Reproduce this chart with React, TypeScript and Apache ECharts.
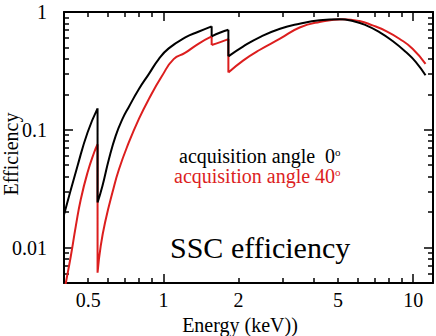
import React, { useEffect, useRef } from "react";
import * as echarts from "echarts";

// Acquisition angle 0 deg (black); edges appear as repeated energies
const energy0 = [0.4, 0.453, 0.497, 0.545, 0.545, 0.570, 0.605, 0.644, 0.685, 0.728, 0.797, 0.874, 0.958, 1.05, 1.224, 1.38, 1.56, 1.56, 1.69, 1.82, 1.82, 2.09, 2.435, 2.93, 3.51, 4.22, 5.07, 5.73, 6.48, 7.32, 8.27, 9.35, 10.25, 11.2];
const eff0 = [0.019, 0.0493, 0.0948, 0.152, 0.0241, 0.0333, 0.0562, 0.0888, 0.123, 0.157, 0.221, 0.297, 0.398, 0.491, 0.609, 0.68, 0.756, 0.621, 0.67, 0.707, 0.42, 0.511, 0.613, 0.721, 0.795, 0.85, 0.867, 0.838, 0.77, 0.676, 0.567, 0.457, 0.376, 0.29];

// Acquisition angle 40 deg (red)
const energy40 = [0.4, 0.407, 0.426, 0.446, 0.467, 0.497, 0.528, 0.545, 0.545, 0.561, 0.588, 0.625, 0.664, 0.727, 0.797, 0.874, 0.988, 1.099, 1.22, 1.38, 1.56, 1.56, 1.69, 1.82, 1.82, 2.09, 2.435, 2.93, 3.51, 4.22, 5.23, 6.09, 6.88, 7.79, 8.8, 9.94, 11.2];
const eff40 = [0.0041, 0.00503, 0.00847, 0.0152, 0.0257, 0.0434, 0.0641, 0.0754, 0.00612, 0.0103, 0.0174, 0.0293, 0.0462, 0.078, 0.123, 0.182, 0.287, 0.398, 0.449, 0.537, 0.62, 0.524, 0.555, 0.589, 0.306, 0.388, 0.478, 0.593, 0.738, 0.822, 0.867, 0.838, 0.77, 0.689, 0.593, 0.488, 0.363];

const xLabelValues = [0.5, 1, 2, 5, 10];
const xMajorTicks = [1, 10];
const xMinorTicks = [0.5, 0.6, 0.7, 0.8, 0.9, 2, 3, 4, 5, 6, 7, 8, 9];
const yLabelValues = [0.01, 0.1, 1];
const yMajorTicks = [0.01, 0.1, 1];
const yMinorTicks = [0.005, 0.006, 0.007, 0.008, 0.009, 0.02, 0.03, 0.04, 0.05, 0.06, 0.07, 0.08, 0.09, 0.2, 0.3, 0.4, 0.5, 0.6, 0.7, 0.8, 0.9];

const X_MIN = 0.4;
const X_MAX = 12;
const Y_MIN = 0.005;
const Y_MAX = 1;

const FONT = "'Liberation Serif', 'Times New Roman', serif";
const RED = "#dc1e1e";

// Split a curve at absorption edges (repeated x) so each smooth part stays smooth
// and the edge itself is drawn as a straight vertical drop.
function buildData(xs: number[], ys: number[]) {
  const out: any[] = [];
  for (let i = 0; i < xs.length; i++) {
    if (i > 0 && xs[i] === xs[i - 1]) {
      out.push("-");
      out.push([xs[i - 1], ys[i - 1]]);
      out.push([xs[i], ys[i]]);
      out.push("-");
    }
    out.push([xs[i], ys[i]]);
  }
  return out;
}

function makeX(position: "top" | "bottom", ticks: number[], len: number, main: boolean) {
  return {
    type: "log",
    logBase: 10,
    min: X_MIN,
    max: X_MAX,
    position,
    gridIndex: 0,
    splitLine: { show: false },
    minorTick: { show: false },
    axisLine: { show: main, onZero: false, lineStyle: { color: "#000", width: 2 } },
    axisTick: { show: true, inside: true, length: len, customValues: ticks, lineStyle: { color: "#000", width: 1.5 } },
    axisLabel: main && position === "bottom"
      ? { show: true, customValues: xLabelValues, formatter: (v: number) => String(v), fontFamily: FONT, fontSize: 20, color: "#000", margin: 7 }
      : { show: false },
    name: main && position === "bottom" ? "Energy (keV))" : "",
    nameLocation: "middle",
    nameGap: 32,
    nameTextStyle: { fontFamily: FONT, fontSize: 20, color: "#000", padding: [0, 17, 0, 0] },
  };
}

function makeY(position: "left" | "right", ticks: number[], len: number, main: boolean) {
  return {
    type: "log",
    logBase: 10,
    min: Y_MIN,
    max: Y_MAX,
    position,
    gridIndex: 0,
    splitLine: { show: false },
    minorTick: { show: false },
    axisLine: { show: main, onZero: false, lineStyle: { color: "#000", width: 2 } },
    axisTick: { show: true, inside: true, length: len, customValues: ticks, lineStyle: { color: "#000", width: 1.5 } },
    axisLabel: main && position === "left"
      ? { show: true, customValues: yLabelValues, formatter: (v: number) => String(v), fontFamily: FONT, fontSize: 20, color: "#000", margin: 17 }
      : { show: false },
  };
}

export default function App() {
  const ref = useRef<HTMLDivElement>(null);
  useEffect(() => {
    if (!ref.current) return;
    const chart = echarts.init(ref.current, null, { renderer: "svg" });
    chart.setOption({
      animation: false,
      backgroundColor: "#fff",
      grid: { left: 64, top: 12, right: 3, bottom: 53, containLabel: false, outerBoundsMode: "none" },
      xAxis: [
        makeX("bottom", xMajorTicks, 9, true),
        makeX("bottom", xMinorTicks, 5, false),
        makeX("top", xMajorTicks, 9, true),
        makeX("top", xMinorTicks, 5, false),
      ],
      yAxis: [
        makeY("left", yMajorTicks, 9, true),
        makeY("left", yMinorTicks, 5, false),
        makeY("right", yMajorTicks, 9, true),
        makeY("right", yMinorTicks, 5, false),
      ],
      series: [
        {
          name: "acquisition angle 40",
          type: "line",
          xAxisIndex: 0,
          yAxisIndex: 0,
          data: buildData(energy40, eff40),
          connectNulls: false,
          smooth: 0.5,
          showSymbol: false,
          symbol: "none",
          clip: true,
          lineStyle: { color: RED, width: 2 },
        },
        {
          name: "acquisition angle 0",
          type: "line",
          xAxisIndex: 0,
          yAxisIndex: 0,
          data: buildData(energy0, eff0),
          connectNulls: false,
          smooth: 0.5,
          showSymbol: false,
          symbol: "none",
          clip: true,
          lineStyle: { color: "#000", width: 2 },
        },
      ],
      graphic: [
        {
          type: "text",
          x: 11,
          y: 154,
          rotation: Math.PI / 2,
          style: {
            text: "Efficiency",
            fontFamily: FONT,
            fontSize: 20,
            fill: "#000",
            align: "center",
            verticalAlign: "middle",
          },
        },
        {
          type: "text",
          x: 179,
          y: 156,
          style: {
            text: "{a|acquisition angle  0}{s|o}",
            verticalAlign: "middle",
            align: "left",
            rich: {
              a: { fontFamily: FONT, fontSize: 20, fill: "#000" },
              s: { fontFamily: FONT, fontSize: 11, fill: "#000", verticalAlign: "top" },
            },
          },
        },
        {
          type: "text",
          x: 174,
          y: 176,
          style: {
            text: "{a|acquisition angle 40}{s|o}",
            verticalAlign: "middle",
            align: "left",
            rich: {
              a: { fontFamily: FONT, fontSize: 20, fill: RED },
              s: { fontFamily: FONT, fontSize: 11, fill: RED, verticalAlign: "top" },
            },
          },
        },
        {
          type: "text",
          x: 170,
          y: 247,
          style: {
            text: "SSC efficiency",
            fontFamily: FONT,
            fontSize: 30,
            fill: "#000",
            verticalAlign: "middle",
            align: "left",
          },
        },
      ],
    });
    return () => chart.dispose();
  }, []);
  return (
    <div
      ref={ref}
      style={{ position: "fixed", left: 0, top: 0, width: 436, height: 336, background: "#fff" }}
    />
  );
}
